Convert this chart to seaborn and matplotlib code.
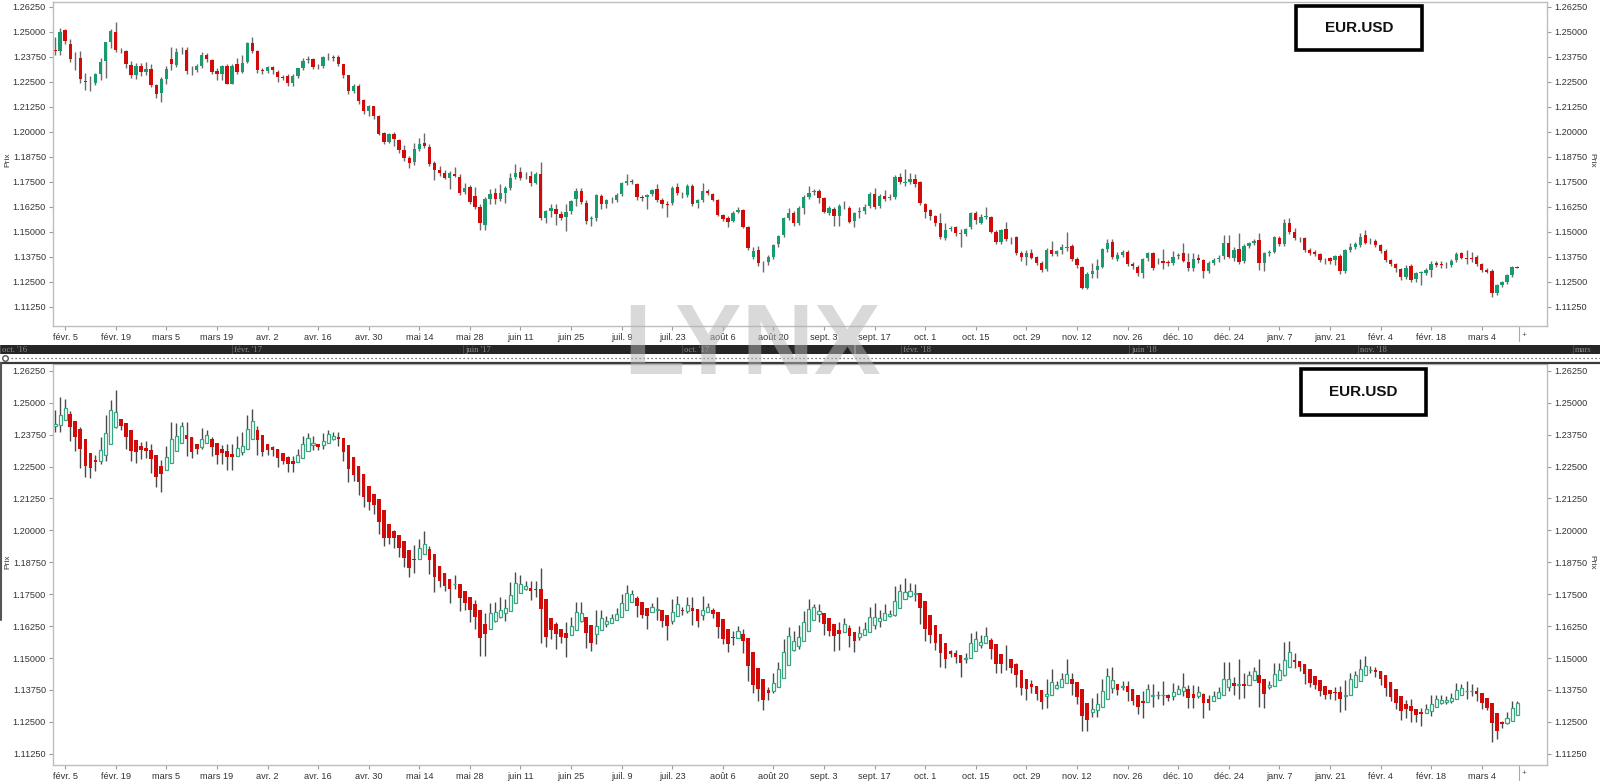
import numpy as np
import pandas as pd
import matplotlib
matplotlib.use("Agg")
import matplotlib.pyplot as plt
from matplotlib.patches import Rectangle
from matplotlib.lines import Line2D
import seaborn as sns

sns.set_theme(style="white")
plt.rcParams['font.family'] = ['Liberation Sans', 'DejaVu Sans']

# ---------------- data (EUR.USD daily) ----------------
opens = [
1.2410,1.2405,1.2509,1.2439,1.2372,1.2370,1.2253,1.2248,1.2246,1.2289,
1.2354,1.2450,1.2500,1.2409,1.2404,1.2334,1.2283,1.2330,1.2297,1.2314,
1.2232,1.2196,1.2266,1.2362,1.2334,1.2409,1.2409,1.2309,1.2309,1.2331,
1.2385,1.2358,1.2306,1.2290,1.2331,1.2240,1.2337,1.2300,1.2351,1.2445,
1.2404,1.2307,1.2306,1.2323,1.2300,1.2273,1.2279,1.2242,1.2279,1.2317,
1.2360,1.2365,1.2329,1.2328,1.2373,1.2373,1.2374,1.2337,1.2282,1.2204,
1.2228,1.2159,1.2106,1.2127,1.2079,1.1992,1.1950,1.1988,1.1958,1.1908,
1.1867,1.1850,1.1916,1.1945,1.1926,1.1842,1.1809,1.1792,1.1771,1.1788,
1.1776,1.1701,1.1722,1.1679,1.1622,1.1534,1.1662,1.1692,1.1662,1.1696,
1.1717,1.1776,1.1801,1.1779,1.1780,1.1746,1.1787,1.1570,1.1604,1.1616,
1.1589,1.1575,1.1605,1.1662,1.1704,1.1646,1.1566,1.1567,1.1679,1.1639,
1.1660,1.1659,1.1689,1.1742,1.1752,1.1739,1.1672,1.1672,1.1689,1.1712,
1.1659,1.1638,1.1642,1.1726,1.1685,1.1684,1.1729,1.1642,1.1659,1.1706,
1.1689,1.1659,1.1584,1.1567,1.1556,1.1601,1.1609,1.1526,1.1376,1.1409,
1.1342,1.1351,1.1376,1.1439,1.1484,1.1567,1.1596,1.1542,1.1621,1.1676,
1.1700,1.1706,1.1667,1.1596,1.1612,1.1581,1.1628,1.1621,1.1554,1.1600,
1.1604,1.1629,1.1687,1.1629,1.1681,1.1670,1.1676,1.1772,1.1746,1.1747,
1.1762,1.1747,1.1639,1.1609,1.1579,1.1546,1.1467,1.1515,1.1522,1.1491,
1.1489,1.1522,1.1592,1.1546,1.1576,1.1572,1.1501,1.1451,1.1514,1.1462,
1.1472,1.1396,1.1372,1.1396,1.1372,1.1346,1.1312,1.1409,1.1387,1.1409,
1.1421,1.1431,1.1362,1.1322,1.1221,1.1289,1.1309,1.1326,1.1414,1.1449,
1.1366,1.1382,1.1399,1.1339,1.1326,1.1292,1.1367,1.1392,1.1352,1.1354,
1.1347,1.1346,1.1380,1.1396,1.1351,1.1317,1.1367,1.1359,1.1304,1.1346,
1.1362,1.1379,1.1442,1.1367,1.1412,1.1356,1.1429,1.1442,1.1459,1.1342,
1.1396,1.1401,1.1467,1.1439,1.1542,1.1497,1.1465,1.1467,1.1409,1.1401,
1.1387,1.1360,1.1367,1.1359,1.1381,1.1304,1.1407,1.1426,1.1434,1.1484,
1.1451,1.1456,1.1434,1.1406,1.1359,1.1339,1.1314,1.1276,1.1329,1.1262,
1.1295,1.1296,1.1309,1.1342,1.1338,1.1334,1.1334,1.1359,1.1392,1.1368,
1.1367,1.1376,1.1339,1.1309,1.1306,1.1192,1.1234,1.1247,1.1284,1.1326,
]
highs = [
1.2473,1.2521,1.2515,1.2466,1.2400,1.2404,1.2292,1.2278,1.2295,1.2367,
1.2450,1.2512,1.2550,1.2420,1.2407,1.2356,1.2345,1.2345,1.2350,1.2340,
1.2240,1.2275,1.2330,1.2425,1.2420,1.2425,1.2425,1.2330,1.2340,1.2400,
1.2395,1.2365,1.2320,1.2335,1.2340,1.2340,1.2370,1.2385,1.2450,1.2475,
1.2410,1.2320,1.2330,1.2330,1.2310,1.2285,1.2290,1.2290,1.2320,1.2370,
1.2380,1.2370,1.2340,1.2380,1.2395,1.2385,1.2385,1.2340,1.2285,1.2240,
1.2240,1.2165,1.2135,1.2130,1.2085,1.1998,1.1995,1.2000,1.1962,1.1935,
1.1880,1.1942,1.1967,1.1996,1.1940,1.1855,1.1830,1.1810,1.1805,1.1826,
1.1790,1.1745,1.1735,1.1726,1.1640,1.1675,1.1715,1.1720,1.1740,1.1730,
1.1796,1.1839,1.1825,1.1800,1.1802,1.1800,1.1851,1.1610,1.1640,1.1640,
1.1605,1.1640,1.1660,1.1720,1.1720,1.1660,1.1580,1.1690,1.1690,1.1665,
1.1672,1.1695,1.1750,1.1787,1.1765,1.1745,1.1682,1.1690,1.1715,1.1740,
1.1668,1.1655,1.1730,1.1742,1.1700,1.1738,1.1740,1.1665,1.1742,1.1715,
1.1695,1.1665,1.1590,1.1580,1.1605,1.1625,1.1612,1.1530,1.1425,1.1430,
1.1355,1.1385,1.1440,1.1485,1.1575,1.1621,1.1605,1.1630,1.1685,1.1731,
1.1712,1.1712,1.1672,1.1628,1.1625,1.1640,1.1655,1.1630,1.1600,1.1625,
1.1640,1.1700,1.1717,1.1690,1.1710,1.1690,1.1782,1.1792,1.1812,1.1795,
1.1790,1.1755,1.1645,1.1615,1.1585,1.1592,1.1546,1.1530,1.1530,1.1512,
1.1520,1.1600,1.1605,1.1590,1.1622,1.1580,1.1510,1.1515,1.1551,1.1475,
1.1480,1.1405,1.1409,1.1415,1.1380,1.1352,1.1417,1.1456,1.1410,1.1440,
1.1497,1.1440,1.1375,1.1330,1.1300,1.1342,1.1365,1.1420,1.1462,1.1465,
1.1400,1.1410,1.1410,1.1350,1.1335,1.1370,1.1400,1.1400,1.1370,1.1412,
1.1360,1.1404,1.1395,1.1442,1.1396,1.1395,1.1390,1.1365,1.1355,1.1370,
1.1385,1.1484,1.1485,1.1425,1.1496,1.1440,1.1450,1.1465,1.1496,1.1400,
1.1410,1.1480,1.1480,1.1562,1.1567,1.1520,1.1475,1.1475,1.1420,1.1410,
1.1395,1.1370,1.1375,1.1385,1.1390,1.1415,1.1442,1.1450,1.1496,1.1509,
1.1470,1.1465,1.1440,1.1415,1.1365,1.1345,1.1320,1.1334,1.1340,1.1300,
1.1305,1.1320,1.1356,1.1355,1.1355,1.1350,1.1365,1.1401,1.1400,1.1409,
1.1400,1.1385,1.1345,1.1320,1.1315,1.1240,1.1255,1.1290,1.1330,1.1330,
]
lows = [
1.2384,1.2384,1.2440,1.2350,1.2309,1.2245,1.2208,1.2204,1.2234,1.2260,
1.2270,1.2420,1.2400,1.2395,1.2318,1.2270,1.2265,1.2280,1.2282,1.2225,
1.2170,1.2150,1.2240,1.2310,1.2325,1.2390,1.2290,1.2285,1.2300,1.2320,
1.2350,1.2290,1.2260,1.2260,1.2238,1.2238,1.2290,1.2295,1.2345,1.2395,
1.2295,1.2290,1.2295,1.2290,1.2250,1.2260,1.2230,1.2230,1.2270,1.2310,
1.2345,1.2315,1.2315,1.2320,1.2360,1.2355,1.2330,1.2270,1.2190,1.2195,
1.2140,1.2090,1.2080,1.2065,1.1985,1.1940,1.1945,1.1930,1.1895,1.1855,
1.1818,1.1834,1.1905,1.1920,1.1830,1.1759,1.1780,1.1762,1.1714,1.1772,
1.1685,1.1690,1.1640,1.1615,1.1509,1.1510,1.1640,1.1640,1.1655,1.1646,
1.1710,1.1765,1.1760,1.1765,1.1729,1.1740,1.1560,1.1545,1.1575,1.1535,
1.1560,1.1506,1.1590,1.1630,1.1640,1.1540,1.1528,1.1555,1.1615,1.1620,
1.1645,1.1650,1.1680,1.1735,1.1738,1.1660,1.1655,1.1612,1.1680,1.1650,
1.1620,1.1572,1.1635,1.1685,1.1670,1.1675,1.1630,1.1620,1.1650,1.1685,
1.1655,1.1578,1.1555,1.1525,1.1550,1.1595,1.1520,1.1410,1.1365,1.1330,
1.1297,1.1335,1.1365,1.1425,1.1475,1.1560,1.1529,1.1535,1.1589,1.1665,
1.1685,1.1642,1.1592,1.1585,1.1529,1.1530,1.1615,1.1545,1.1522,1.1570,
1.1590,1.1620,1.1615,1.1620,1.1655,1.1660,1.1665,1.1740,1.1730,1.1740,
1.1725,1.1635,1.1567,1.1560,1.1530,1.1465,1.1460,1.1505,1.1480,1.1426,
1.1480,1.1515,1.1540,1.1540,1.1565,1.1495,1.1440,1.1440,1.1455,1.1440,
1.1385,1.1355,1.1334,1.1365,1.1335,1.1301,1.1305,1.1380,1.1380,1.1390,
1.1405,1.1355,1.1320,1.1216,1.1215,1.1270,1.1271,1.1320,1.1400,1.1365,
1.1355,1.1375,1.1330,1.1315,1.1280,1.1267,1.1355,1.1310,1.1340,1.1315,
1.1330,1.1335,1.1365,1.1350,1.1305,1.1305,1.1345,1.1267,1.1295,1.1335,
1.1350,1.1365,1.1370,1.1355,1.1340,1.1345,1.1420,1.1435,1.1309,1.1305,
1.1380,1.1395,1.1430,1.1430,1.1490,1.1460,1.1450,1.1400,1.1385,1.1380,
1.1350,1.1340,1.1340,1.1335,1.1289,1.1295,1.1400,1.1415,1.1425,1.1440,
1.1440,1.1425,1.1395,1.1350,1.1330,1.1300,1.1259,1.1265,1.1250,1.1250,
1.1234,1.1285,1.1275,1.1325,1.1320,1.1320,1.1325,1.1350,1.1365,1.1340,
1.1350,1.1330,1.1300,1.1295,1.1172,1.1184,1.1225,1.1240,1.1275,1.1318,
]
closes = [
1.2405,1.2501,1.2455,1.2362,1.2376,1.2262,1.2249,1.2250,1.2289,1.2349,
1.2447,1.2506,1.2409,1.2407,1.2337,1.2283,1.2330,1.2297,1.2314,1.2232,
1.2187,1.2266,1.2316,1.2340,1.2401,1.2407,1.2306,1.2307,1.2331,1.2385,
1.2363,1.2300,1.2290,1.2331,1.2240,1.2331,1.2300,1.2345,1.2442,1.2404,
1.2309,1.2305,1.2323,1.2310,1.2272,1.2271,1.2242,1.2279,1.2317,1.2353,
1.2362,1.2325,1.2327,1.2374,1.2375,1.2371,1.2337,1.2282,1.2204,1.2229,
1.2154,1.2106,1.2129,1.2077,1.1989,1.1950,1.1988,1.1963,1.1908,1.1870,
1.1845,1.1912,1.1937,1.1929,1.1837,1.1809,1.1792,1.1771,1.1792,1.1780,
1.1696,1.1721,1.1651,1.1626,1.1542,1.1662,1.1689,1.1662,1.1696,1.1717,
1.1771,1.1796,1.1767,1.1778,1.1746,1.1787,1.1567,1.1604,1.1621,1.1589,
1.1570,1.1600,1.1654,1.1704,1.1649,1.1554,1.1568,1.1684,1.1637,1.1659,
1.1658,1.1684,1.1742,1.1754,1.1750,1.1672,1.1670,1.1684,1.1709,1.1659,
1.1639,1.1636,1.1721,1.1692,1.1683,1.1729,1.1639,1.1659,1.1706,1.1692,
1.1659,1.1584,1.1564,1.1551,1.1596,1.1609,1.1526,1.1417,1.1406,1.1342,
1.1345,1.1376,1.1434,1.1479,1.1567,1.1596,1.1542,1.1621,1.1676,1.1696,
1.1702,1.1671,1.1601,1.1621,1.1581,1.1629,1.1630,1.1551,1.1592,1.1602,
1.1626,1.1687,1.1622,1.1681,1.1664,1.1672,1.1776,1.1747,1.1748,1.1762,
1.1739,1.1642,1.1601,1.1579,1.1546,1.1476,1.1509,1.1518,1.1492,1.1493,
1.1516,1.1596,1.1559,1.1576,1.1578,1.1501,1.1451,1.1509,1.1464,1.1463,
1.1392,1.1372,1.1396,1.1371,1.1346,1.1309,1.1409,1.1387,1.1404,1.1426,
1.1423,1.1362,1.1334,1.1217,1.1289,1.1306,1.1329,1.1414,1.1446,1.1372,
1.1382,1.1399,1.1337,1.1330,1.1292,1.1362,1.1392,1.1317,1.1354,1.1346,
1.1345,1.1376,1.1382,1.1356,1.1317,1.1364,1.1359,1.1306,1.1346,1.1359,
1.1371,1.1442,1.1376,1.1409,1.1351,1.1429,1.1442,1.1454,1.1342,1.1392,
1.1398,1.1472,1.1439,1.1542,1.1501,1.1467,1.1464,1.1409,1.1392,1.1389,
1.1359,1.1358,1.1356,1.1379,1.1304,1.1409,1.1426,1.1439,1.1476,1.1446,
1.1450,1.1434,1.1404,1.1359,1.1339,1.1317,1.1276,1.1321,1.1259,1.1292,
1.1297,1.1309,1.1339,1.1334,1.1332,1.1335,1.1356,1.1389,1.1371,1.1366,
1.1366,1.1339,1.1309,1.1301,1.1196,1.1234,1.1247,1.1284,1.1322,1.1318,
]

x_tick_labels = ["févr. 5", "févr. 19", "mars 5", "mars 19", "avr. 2", "avr. 16",
                 "avr. 30", "mai 14", "mai 28", "juin 11", "juin 25", "juil. 9",
                 "juil. 23", "août 6", "août 20", "sept. 3", "sept. 17", "oct. 1",
                 "oct. 15", "oct. 29", "nov. 12", "nov. 26", "déc. 10", "déc. 24",
                 "janv. 7", "janv. 21", "févr. 4", "févr. 18", "mars 4"]
y_ticks = [1.1125, 1.1250, 1.1375, 1.1500, 1.1625, 1.1750, 1.1875,
           1.2000, 1.2125, 1.2250, 1.2375, 1.2500, 1.2625]
nav_labels = ["oct. '16", "févr. '17", "juin '17", "oct. '17",
              "févr. '18", "juin '18", "nov. '18", "mars"]
symbol = "EUR.USD"
axis_title = "Prix"
watermark = "LYNX"

# ---------------- derived series ----------------
df = pd.DataFrame({"open": opens, "high": highs, "low": lows, "close": closes})
df["x"] = np.arange(len(df))
ha_close = (df["open"] + df["high"] + df["low"] + df["close"]).values / 4.0
ha_open = np.empty(len(df))
ha_open[0] = (df["open"].iloc[0] + df["close"].iloc[0]) / 2.0
for i in range(1, len(df)):
    ha_open[i] = (ha_open[i - 1] + ha_close[i - 1]) / 2.0
ha_high = np.maximum.reduce([df["high"].values, ha_open, ha_close])
ha_low = np.minimum.reduce([df["low"].values, ha_open, ha_close])

# ---------------- styling ----------------
GREEN = "#1a9b6e"
RED = "#d10a0a"
HA_GREEN = "#3aa582"
WICK = "#6a6a6a"
WICK2 = "#4a4a4a"
SPINE = "#bdbdbd"
TXT = "#333333"

W, H = 1600, 781
fig = plt.figure(figsize=(W / 100, H / 100), dpi=100)
fig.patch.set_facecolor("white")


def fax(l, t, r, b):
    return [l / W, 1 - b / H, (r - l) / W, (b - t) / H]


ax1 = fig.add_axes(fax(53, 2, 1547, 326))
ax2 = fig.add_axes(fax(53, 364, 1547, 765))

x = df["x"].values
o = df["open"].values
c = df["close"].values
hi = df["high"].values
lo = df["low"].values
MINH = 0.00012

# top: regular candles
up = c >= o
ax1.vlines(x, lo, hi, color=WICK, lw=1.0, zorder=1)
ax1.bar(x[up], np.maximum(c[up] - o[up], MINH), bottom=o[up], width=0.66,
        color=GREEN, lw=0, zorder=2)
ax1.bar(x[~up], np.maximum(o[~up] - c[~up], MINH), bottom=c[~up], width=0.66,
        color=RED, lw=0, zorder=2)

# bottom: Heikin-Ashi candles
hup = ha_close >= ha_open
ax2.vlines(x, ha_low, ha_high, color=WICK2, lw=1.0, zorder=1)
ax2.bar(x[hup], np.maximum(ha_close[hup] - ha_open[hup], MINH), bottom=ha_open[hup],
        width=0.62, facecolor="white", edgecolor=HA_GREEN, lw=0.9, zorder=2)
ax2.bar(x[~hup], np.maximum(ha_open[~hup] - ha_close[~hup], MINH), bottom=ha_close[~hup],
        width=0.72, color=RED, lw=0, zorder=2)

xticks = [2 + 10 * k for k in range(len(x_tick_labels))]
for ax, ylim in ((ax1, (1.10290, 1.26490)), (ax2, (1.10813, 1.26516))):
    ax.set_xlim(-0.4, 294.9)
    ax.set_ylim(*ylim)
    ax.set_facecolor("white")
    ax.grid(False)
    for s in ax.spines.values():
        s.set_visible(True)
        s.set_color(SPINE)
        s.set_linewidth(1.0)
    ax.set_yticks(y_ticks)
    ax.set_yticklabels([f"{v:.5f}" for v in y_ticks])
    ax.set_xticks(xticks)
    ax.set_xticklabels(x_tick_labels)
    ax.tick_params(axis="y", which="both", left=True, right=True, labelleft=True,
                   labelright=True, length=3, width=0.8, color="#9a9a9a",
                   labelsize=6.6, labelcolor=TXT, pad=2)
    ax.tick_params(axis="x", bottom=True, length=3, width=0.8, color="#9a9a9a",
                   labelsize=6.6, labelcolor=TXT, pad=2)

# "Prix" axis titles
for yy in (160, 562):
    fig.text(8 / W, 1 - yy / H, axis_title, rotation=90, fontsize=6, color=TXT,
             ha="center", va="center")
    fig.text(1592 / W, 1 - yy / H, axis_title, rotation=270, fontsize=6, color=TXT,
             ha="center", va="center")

# "+" end marker under the axes
fig.add_artist(Line2D([1519 / W] * 2, [1 - 327 / H, 1 - 341 / H], color="#aaaaaa", lw=0.8))
fig.text(1524 / W, 1 - 335 / H, "+", fontsize=6, color="#555555", ha="center", va="center")
fig.add_artist(Line2D([1519 / W] * 2, [1 - 766 / H, 1 - 780 / H], color="#aaaaaa", lw=0.8))
fig.text(1524 / W, 1 - 774 / H, "+", fontsize=6, color="#555555", ha="center", va="center")

# navigator strip
axn = fig.add_axes(fax(0, 345, 1600, 354))
axn.set_xlim(0, W)
axn.set_ylim(0, 1)
axn.set_facecolor("#262626")
axn.set_xticks([])
axn.set_yticks([])
for s in axn.spines.values():
    s.set_visible(False)
nav_pos = [1, 233, 464, 683, 902, 1130, 1359, 1574]
for lab, px in zip(nav_labels, nav_pos):
    axn.axvline(px - 1, color="#4a4a4a", lw=0.8)
    axn.text(px + 1, 0.45, lab, color="#8c8c8c", fontsize=6.2, family="Liberation Serif",
             ha="left", va="center")
axn.axvline(855, color="#777777", lw=1.2)

# dotted splitter and panel frame line
fig.add_artist(Line2D([11 / W, 1], [1 - 358 / H] * 2, color="#555555", lw=0.9,
                      linestyle=(0, (1, 2.2))))
fig.add_artist(Line2D([5 / W], [1 - 358 / H], marker="o", markersize=4,
                      markerfacecolor="white", markeredgecolor="#555555", lw=0))
fig.add_artist(Line2D([0, 1], [1 - 362.5 / H] * 2, color="#3a3a3a", lw=1.6))
fig.add_artist(Line2D([1 / W] * 2, [1 - 363 / H, 1 - 620 / H], color="#555555", lw=1.5))

# symbol boxes
for (l, t, r, b) in ((1296, 6, 1422, 50), (1301, 369, 1426, 415)):
    fig.add_artist(Rectangle((l / W, 1 - b / H), (r - l) / W, (b - t) / H,
                             transform=fig.transFigure, fill=True, facecolor="white",
                             edgecolor="black", lw=2.6))
    fig.text((l + r) / 2 / W, 1 - (t + b) / 2 / H, symbol, fontsize=11,
             fontweight="bold", color="#111111", ha="center", va="center")

# watermark
fig.text(752 / W, 1 - 337 / H, watermark, fontsize=72, fontweight="bold",
         color="#b4b4b4", alpha=0.5, ha="center", va="center_baseline", zorder=10)

fig.savefig("out.png", dpi=100, facecolor="white")
